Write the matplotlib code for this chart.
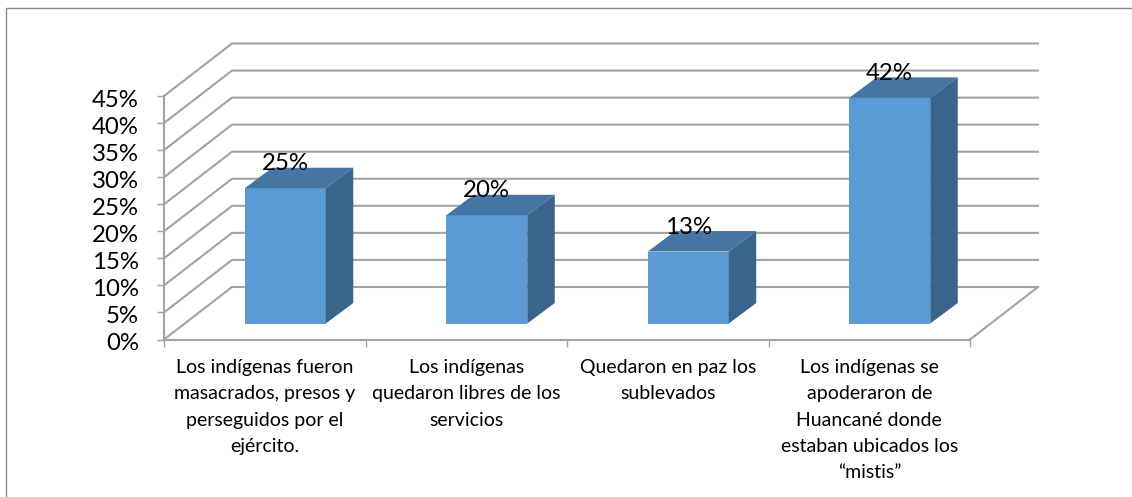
import matplotlib.pyplot as plt
from matplotlib.patches import Polygon, Rectangle
from matplotlib.transforms import ScaledTranslation

categories = [
    "Los indígenas fueron\nmasacrados, presos y\nperseguidos por el\nejército.",
    "Los indígenas\nquedaron libres de los\nservicios",
    "Quedaron en paz los\nsublevados",
    "Los indígenas se\napoderaron de\nHuancané donde\nestaban ubicados los\n“mistis”",
]
values = [25, 20, 13.3, 41.7]
y_ticks = [0, 5, 10, 15, 20, 25, 30, 35, 40, 45]

W, H = 1132, 497
plt.rcParams["font.family"] = ["Lato", "DejaVu Sans"]

fig = plt.figure(figsize=(W / 100, H / 100), dpi=100)
fig.patches.append(Rectangle((6 / W, -0.1), 1.1, 1.1 - 8 / H, transform=fig.transFigure,
                             fill=False, edgecolor="#8c8c8c", linewidth=1))

# front plane of the 3d box, everything else is offset from it
ax = fig.add_axes([164 / W, 1 - 339.5 / H, 806 / W, 243.5 / H])
ax.set_xlim(0, 4)
ax.set_ylim(0, 45)
ax.patch.set_visible(False)
px_x = 4 / 806
px_y = 45 / 243.5

wall_dx = 68 * px_x
wall_dy = 52.5 * px_y
grid = "#a3a3a3"

for t in y_ticks:
    ax.plot([0, wall_dx, 4 + wall_dx], [t, t + wall_dy, t + wall_dy], color=grid, lw=1.5,
            clip_on=False, zorder=1, solid_joinstyle="miter")
ax.plot([4, 4 + wall_dx], [0, wall_dy], color=grid, lw=1.5, clip_on=False, zorder=1)

# bars stand in the middle of the floor
bar_w = 81 * px_x
base = 16 * px_y
shift = 20.5 * px_x
dx = 27.5 * px_x
dy = 20.5 * px_y
for i, v in enumerate(values):
    c = i + 0.5 + shift
    l, r = c - bar_w / 2, c + bar_w / 2
    top = base + v
    ax.bar(c, v, width=bar_w, bottom=base, color="#5b9bd5", zorder=3, clip_on=False)
    ax.add_patch(Polygon([(l, top), (r, top), (r + dx, top + dy), (l + dx, top + dy)], closed=True,
                         facecolor="#4575a2", zorder=3, clip_on=False))
    ax.add_patch(Polygon([(r, base), (r, top), (r + dx, top + dy), (r + dx, base + dy)], closed=True,
                         facecolor="#3a6489", zorder=3, clip_on=False))
    ax.text(c, top + 24.5 * px_y, f"{v:.0f}%", ha="center", va="center", fontsize=17.3,
            color="black", zorder=4)

for s in ["top", "right"]:
    ax.spines[s].set_visible(False)
for s in ["left", "bottom"]:
    ax.spines[s].set_color(grid)
    ax.spines[s].set_linewidth(1.5)

ax.set_yticks(y_ticks)
ax.set_yticklabels([f"{t}%" for t in y_ticks], fontsize=17.3)
ax.tick_params(axis="y", length=5, width=1, color=grid, pad=13)
down = ScaledTranslation(0, -2.5 / 100, fig.dpi_scale_trans)
for lab in ax.get_yticklabels():
    lab.set_transform(lab.get_transform() + down)
ax.set_xticks(range(5))
ax.set_xticklabels([])
ax.tick_params(axis="x", length=5, width=1, color=grid)
for i, lab in enumerate(categories):
    ax.annotate(lab, (i + 0.5, 0), xytext=(0, -14), textcoords="offset points", ha="center", va="top",
                fontsize=14, linespacing=1.67, color="black", annotation_clip=False)

fig.savefig("out.png", dpi=100)
